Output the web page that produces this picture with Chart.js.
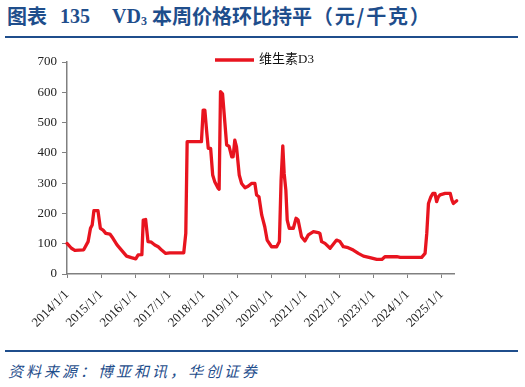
<!DOCTYPE html>
<html>
<head>
<meta charset="utf-8">
<script src="https://cdn.jsdelivr.net/npm/chart.js@4"></script>
<style>
  html, body { margin: 0; padding: 0; background: #fff; }
  body { width: 525px; height: 387px; position: relative; overflow: hidden; }
  .t { position: absolute; top: 4px; white-space: nowrap; color: #1F4E8C;
    font-family: 'Noto Sans CJK SC', sans-serif; font-weight: bold; font-size: 20px; line-height: 24px; }
  .t.lat { font-family: 'Liberation Serif', serif; font-size: 20px; top: 4px; }
  .t sub { font-size: 12px; vertical-align: -2px; line-height: 0; }
  .rule { position: absolute; left: 5px; width: 513px; height: 2px; background: #1F4E8C; }
  #source { position: absolute; left: 8px; top: 361px; white-space: nowrap; color: #1F4E8C;
    font-family: 'Noto Sans CJK SC', sans-serif; font-style: italic; font-size: 15px; letter-spacing: 3px; line-height: 20px; }
  #wrap { position: absolute; left: 0; top: 0; width: 525px; height: 387px; }
</style>
</head>
<body>
<div class="t" style="left:7px">图表</div>
<div class="t lat" style="left:60px">135</div>
<div class="t lat" style="left:112px">VD<sub>3</sub></div>
<div class="t" style="left:152px">本周价格环比持平</div>
<div class="t" style="left:313px; letter-spacing:1.8px">（元/千克）</div>
<div class="rule" style="top:36px"></div>
<div class="rule" style="top:350px"></div>
<div id="source">资料来源：博亚和讯，华创证券</div>
<div id="wrap"><canvas id="c" width="525" height="387"></canvas></div>
<script>
// ---- data ----
const seriesName = '维生素D3';
const years = [
  2014.00, 2014.13, 2014.23, 2014.49, 2014.62, 2014.69, 2014.74, 2014.79, 2014.91, 2014.98,
  2015.06, 2015.14, 2015.26, 2015.35, 2015.47, 2015.60, 2015.75, 2015.89, 2016.02, 2016.09,
  2016.20, 2016.24, 2016.31, 2016.38, 2016.48, 2016.58, 2016.68, 2016.78, 2016.90, 2017.02,
  2017.43, 2017.49, 2017.53, 2017.95, 2018.00, 2018.05, 2018.10, 2018.15, 2018.22, 2018.28,
  2018.34, 2018.44, 2018.47, 2018.51, 2018.57, 2018.64, 2018.69, 2018.76, 2018.84, 2018.88,
  2018.93, 2018.98, 2019.06, 2019.13, 2019.23, 2019.32, 2019.42, 2019.52, 2019.57, 2019.64,
  2019.72, 2019.81, 2019.88, 2020.01, 2020.16, 2020.24, 2020.29, 2020.34, 2020.38, 2020.43,
  2020.47, 2020.53, 2020.65, 2020.73, 2020.79, 2020.89, 2020.99, 2021.09, 2021.24, 2021.38,
  2021.43, 2021.48, 2021.58, 2021.73, 2021.92, 2022.02, 2022.12, 2022.26, 2022.41, 2022.56,
  2022.71, 2022.90, 2023.10, 2023.25, 2023.34, 2023.69, 2023.79, 2024.42, 2024.52, 2024.57,
  2024.62, 2024.69, 2024.75, 2024.81, 2024.86, 2024.91, 2024.96, 2025.11, 2025.26, 2025.31,
  2025.35, 2025.45
];
const prices = [
  101, 85, 78, 80, 107, 151, 162, 209, 209, 151,
  145, 134, 132, 118, 96, 79, 59, 54, 50, 63,
  64, 178, 180, 107, 105, 96, 90, 79, 68, 70,
  70, 134, 437, 437, 541, 541, 475, 415, 415, 327,
  305, 283, 280, 602, 595, 497, 426, 422, 387, 387,
  442, 420, 327, 299, 285, 290, 299, 299, 261, 255,
  195, 156, 112, 90, 90, 107, 310, 423, 332, 277,
  178, 151, 151, 184, 178, 123, 109, 129, 140, 137,
  134, 107, 101, 85, 112, 107, 90, 87, 79, 68,
  59, 54, 48, 48, 57, 57, 55, 55, 68, 134,
  233, 255, 266, 266, 239, 255, 261, 266, 266, 244,
  233, 242
];
const xTickYears = [2014, 2015, 2016, 2017, 2018, 2019, 2020, 2021, 2022, 2023, 2024, 2025];
const xTickLabels = ['2014/1/1', '2015/1/1', '2016/1/1', '2017/1/1', '2018/1/1', '2019/1/1',
                     '2020/1/1', '2021/1/1', '2022/1/1', '2023/1/1', '2024/1/1', '2025/1/1'];
const yTicks = [0, 100, 200, 300, 400, 500, 600, 700];

// ---- chart ----
const serif = "'Liberation Serif', 'Times New Roman', serif";
const axisColor = '#808080';
const lineColor = '#E8141F';

const legendPlugin = {
  id: 'fixedLegend',
  afterDraw(chart) {
    const ctx = chart.ctx;
    const ds = chart.data.datasets[0];
    ctx.save();
    ctx.strokeStyle = ds.borderColor;
    ctx.lineWidth = 3.5;
    ctx.beginPath();
    ctx.moveTo(215, 60);
    ctx.lineTo(254, 60);
    ctx.stroke();
    ctx.fillStyle = '#111';
    ctx.font = "13px 'Liberation Serif', 'Noto Sans CJK SC', serif";
    ctx.textBaseline = 'middle';
    ctx.textAlign = 'left';
    ctx.fillText(ds.label, 259, 60);
    ctx.restore();
  }
};

new Chart(document.getElementById('c'), {
  type: 'line',
  data: {
    datasets: [{
      label: seriesName,
      data: years.map((x, i) => ({ x: x, y: prices[i] })),
      borderColor: lineColor,
      backgroundColor: lineColor,
      borderWidth: 3.3,
      pointRadius: 0,
      tension: 0,
      clip: false,
      borderJoinStyle: 'round',
      borderCapStyle: 'round'
    }]
  },
  options: {
    responsive: false,
    animation: false,
    devicePixelRatio: 1,
    layout: { padding: { left: 0, right: 71, top: 62, bottom: 0 } },
    plugins: { legend: { display: false }, tooltip: { enabled: false } },
    scales: {
      x: {
        type: 'linear',
        min: 2014,
        max: 2025.37,
        afterBuildTicks(scale) { scale.ticks = xTickYears.map(v => ({ value: v })); },
        afterFit(scale) { scale.height = 113; },
        ticks: {
          autoSkip: false,
          minRotation: 45,
          maxRotation: 45,
          padding: 9,
          color: '#222',
          font: { family: serif, size: 13 },
          callback(v) { const i = xTickYears.indexOf(v); return i >= 0 ? xTickLabels[i] : ''; }
        },
        grid: { display: true, drawOnChartArea: false, drawTicks: true, tickLength: 4, color: axisColor, lineWidth: 1 },
        border: { display: true, color: axisColor, width: 1.5 }
      },
      y: {
        min: 0,
        max: 700,
        afterBuildTicks(scale) { scale.ticks = yTicks.map(v => ({ value: v })); },
        afterFit(scale) { scale.width = 67; },
        ticks: {
          padding: 5,
          color: '#222',
          font: { family: serif, size: 13 }
        },
        grid: { display: true, drawOnChartArea: false, drawTicks: true, tickLength: 5, color: axisColor, lineWidth: 1 },
        border: { display: true, color: axisColor, width: 1.5 }
      }
    }
  },
  plugins: [legendPlugin]
});
</script>
</body>
</html>
